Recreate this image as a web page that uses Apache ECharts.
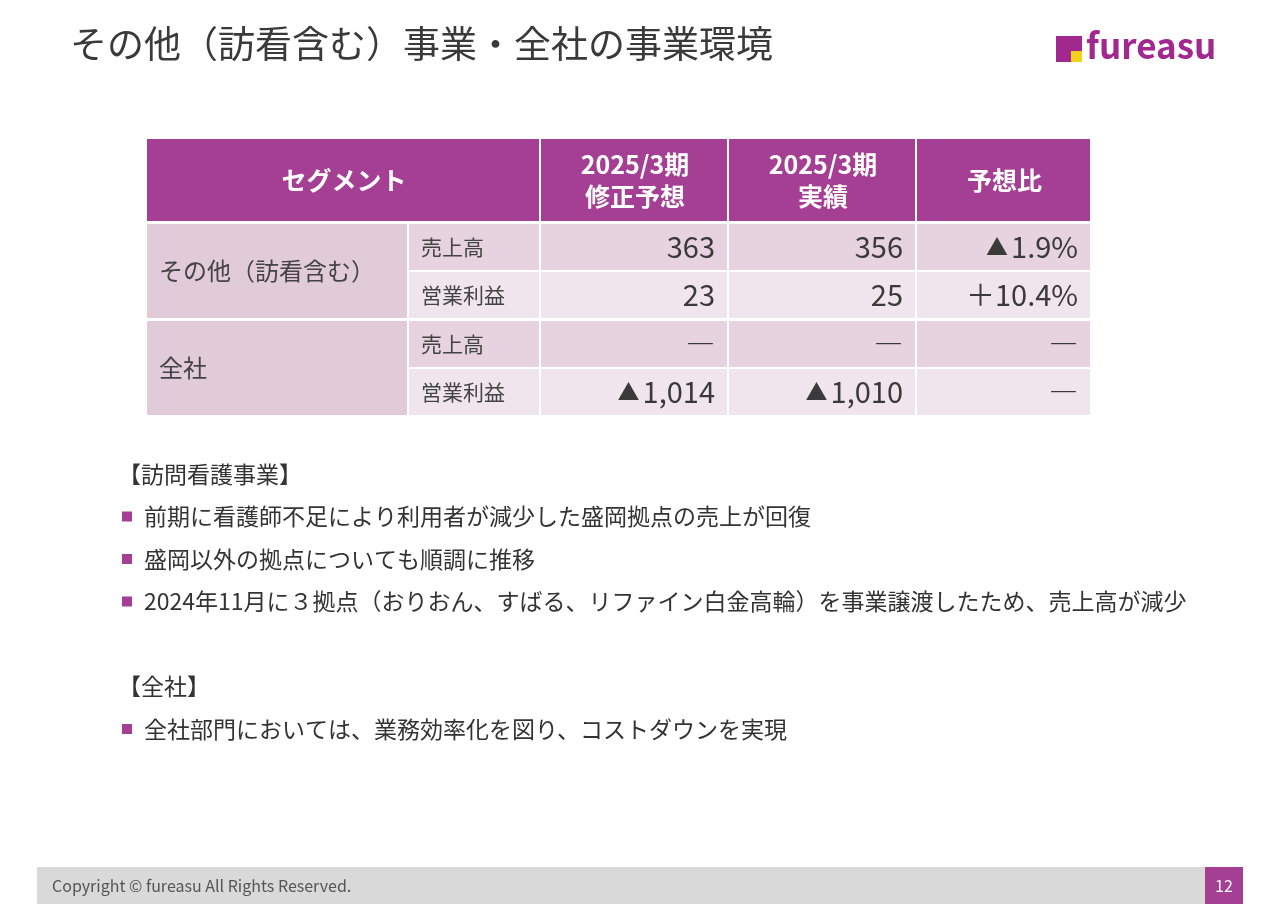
<!DOCTYPE html>
<html><head><meta charset="utf-8">
<script src="https://cdn.jsdelivr.net/npm/echarts@6/dist/echarts.min.js"></script>
<style>html,body{margin:0;padding:0;background:#fff}#main{width:1280px;height:904px}</style>
</head><body><div id="main"></div>
<script>
const title = 'その他（訪看含む）事業・全社の事業環境';
const headers = ['セグメント', '2025/3期\n修正予想', '2025/3期\n実績', '予想比'];
const segments = ['その他（訪看含む）', '全社'];
const items = ['売上高', '営業利益', '売上高', '営業利益'];
const forecast = ['363', '23', '―', '▲1,014'];
const actual = ['356', '25', '―', '▲1,010'];
const ratio = ['▲1.9%', '＋10.4%', '―', '―'];
const notes = [
  ['h', '【訪問看護事業】'],
  ['b', '前期に看護師不足により利用者が減少した盛岡拠点の売上が回復'],
  ['b', '盛岡以外の拠点についても順調に推移'],
  ['b', '2024年11月に３拠点（おりおん、すばる、リファイン白金高輪）を事業譲渡したため、売上高が減少'],
  ['s', ''],
  ['h', '【全社】'],
  ['b', '全社部門においては、業務効率化を図り、コストダウンを実現']
];

const font = '"Noto Sans CJK JP", "Noto Sans", sans-serif';
const purple = '#a53f93';
const colX = [147, 409, 541, 729, 917, 1092];
const rowY = [224, 272, 321, 369];
const rowH = 46;
const g = [];

g.push({type: 'text', left: 70, top: 25, style: {text: title, font: '37px ' + font, fill: '#3a3a3a'}});
// logo
g.push({type: 'rect', shape: {x: 1056, y: 36, width: 26, height: 26}, style: {fill: '#a0288f'}});
g.push({type: 'rect', shape: {x: 1071, y: 51, width: 11, height: 11}, style: {fill: '#f2d21b'}});
g.push({type: 'text', left: 1086, top: 28, style: {text: 'fureasu', font: 'bold 35px ' + font, fill: '#a0288f'}});

// header
const hx = [[colX[0], colX[2]], [colX[2], colX[3]], [colX[3], colX[4]], [colX[4], colX[5]]];
hx.forEach((c, i) => {
  g.push({type: 'rect', shape: {x: c[0], y: 139, width: c[1] - c[0] - 2, height: 82}, style: {fill: purple}});
  g.push({type: 'text', x: (c[0] + c[1]) / 2, y: 180, style: {text: headers[i], font: 'bold 25px ' + font, fill: '#fff', align: 'center', verticalAlign: 'middle', lineHeight: 32}});
});

// segment cells
segments.forEach((s, i) => {
  const y0 = rowY[i * 2], y1 = rowY[i * 2 + 1] + rowH;
  g.push({type: 'rect', shape: {x: colX[0], y: y0, width: colX[1] - colX[0] - 2, height: y1 - y0}, style: {fill: '#e2cbd9'}});
  g.push({type: 'text', x: colX[0] + 12, y: (y0 + y1) / 2, style: {text: s, font: '24px ' + font, fill: '#444', verticalAlign: 'middle'}});
});

function cellText(v) {
  return v.replace('▲', '{t|▲}');
}

items.forEach((it, r) => {
  const fill = r % 2 === 0 ? '#e6d3df' : '#f1e5ed';
  for (let c = 1; c < 5; c++) {
    g.push({type: 'rect', shape: {x: colX[c], y: rowY[r], width: colX[c + 1] - colX[c] - 2, height: rowH}, style: {fill: fill}});
  }
  const cy = rowY[r] + rowH / 2;
  g.push({type: 'text', x: colX[1] + 12, y: cy, style: {text: it, font: '21px ' + font, fill: '#444', verticalAlign: 'middle'}});
  [forecast[r], actual[r], ratio[r]].forEach((v, k) => {
    g.push({type: 'text', x: colX[k + 3] - 14, y: cy, style: {
      text: cellText(v), font: '29px ' + font, fill: '#3a3a3a', align: 'right', verticalAlign: 'middle',
      rich: {t: {font: '22px ' + font, fill: '#3a3a3a', padding: [0, 3, 0, 0]}}
    }});
  });
});

// notes
let ny = 474;
notes.forEach(n => {
  if (n[0] === 'h') {
    g.push({type: 'text', x: 118, y: ny, style: {text: n[1], font: '23px ' + font, fill: '#333', verticalAlign: 'middle'}});
  } else if (n[0] === 'b') {
    g.push({type: 'rect', shape: {x: 122, y: ny - 5, width: 10, height: 10}, style: {fill: purple}});
    g.push({type: 'text', x: 144, y: ny, style: {text: n[1], font: '23px ' + font, fill: '#333', verticalAlign: 'middle'}});
  }
  ny += 42.5;
});

// footer
g.push({type: 'rect', shape: {x: 37, y: 867, width: 1206, height: 37}, style: {fill: '#d9d9d9'}});
g.push({type: 'text', x: 52, y: 886, style: {text: 'Copyright © fureasu All Rights Reserved.', font: '16px ' + font, fill: '#555', verticalAlign: 'middle'}});
g.push({type: 'rect', shape: {x: 1205, y: 867, width: 38, height: 37}, style: {fill: purple}});
g.push({type: 'text', x: 1224, y: 886, style: {text: '12', font: '16px ' + font, fill: '#fff', align: 'center', verticalAlign: 'middle'}});

const chart = echarts.init(document.getElementById('main'));
chart.setOption({animation: false, graphic: g});
</script></body></html>
